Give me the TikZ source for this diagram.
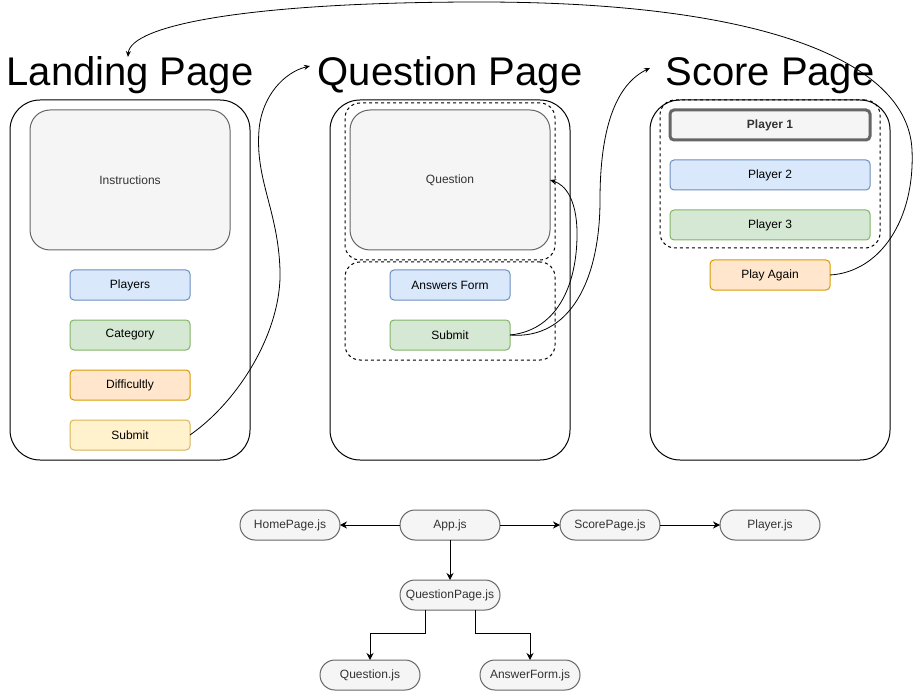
\documentclass[tikz,border=0pt]{standalone}
\usepackage{fontspec}
\setmainfont{Liberation Sans}
\usetikzlibrary{arrows.meta}

\definecolor{greyfill}{HTML}{F5F5F5}
\definecolor{greyline}{HTML}{666666}
\definecolor{greytext}{HTML}{333333}
\definecolor{bluefill}{HTML}{DAE8FC}
\definecolor{blueline}{HTML}{6C8EBF}
\definecolor{greenfill}{HTML}{D5E8D4}
\definecolor{greenline}{HTML}{82B366}
\definecolor{orangefill}{HTML}{FFE6CC}
\definecolor{orangeline}{HTML}{D79B00}
\definecolor{yellowfill}{HTML}{FFF2CC}
\definecolor{yellowline}{HTML}{D6B656}

\tikzset{
  base/.style={inner sep=0pt, outer sep=0pt, line width=1pt,
    font=\fontsize{12}{14}\selectfont, text=black},
  pagetitle/.style={inner sep=0pt, font=\fontsize{40}{44}\selectfont, anchor=base},
  pageframe/.style={base, draw=black, rounded corners=30pt,
    minimum width=240pt, minimum height=360pt},
  panel/.style={base, draw=greyline, fill=greyfill, text=greytext,
    rounded corners=20pt, minimum width=200pt, minimum height=140pt},
  btn/.style={base, rounded corners=4pt, minimum width=120pt, minimum height=30pt},
  wide/.style={minimum width=200pt},
  bluebtn/.style={btn, draw=blueline, fill=bluefill},
  greenbtn/.style={btn, draw=greenline, fill=greenfill},
  orangebtn/.style={btn, draw=orangeline, fill=orangefill},
  yellowbtn/.style={btn, draw=yellowline, fill=yellowfill},
  greybtn/.style={btn, draw=greyline, fill=greyfill},
  group/.style={base, draw=black, dash pattern=on 3pt off 3pt,
    rounded corners=15pt},
  pill/.style={base, draw=greyline, fill=greyfill, text=greytext,
    rounded corners=15pt, minimum width=100pt, minimum height=30pt},
  link/.style={line width=0.8pt, -{Stealth[length=6pt,width=5pt]}},
  dep/.style={line width=1pt, -{Stealth[length=7pt,width=7pt]}},
}

\begin{document}
\begin{tikzpicture}[x=1pt, y=-1pt]
\useasboundingbox (0,0) rectangle (917,692);

% page titles
\node[pagetitle] (tland) at (130,86) {Landing Page};
\node[pagetitle] (tques) at (450,86) {Question Page};
\node[pagetitle] (tscore) at (770,86) {Score Page};

% page frames
\node[pageframe] (pland) at (130,280) {};
\node[pageframe] (pques) at (450,280) {};
\node[pageframe] (pscore) at (770,280) {};

% landing page
\node[panel] (instr) at (130,180) {Instructions};
\node[bluebtn] (players) at (130,285) {Players};
\node[greenbtn] (category) at (130,335) {Category};
\node[orangebtn] (difficulty) at (130,385) {Difficultly};
\node[yellowbtn] (lsubmit) at (130,435) {Submit};

% question page
\node[group, minimum width=210pt, minimum height=157pt] (qgroup) at (450,181.5) {};
\node[group, minimum width=210pt, minimum height=98pt] (agroup) at (450,311) {};
\node[panel] (question) at (450,180) {Question};
\node[bluebtn] (answers) at (450,285) {Answers Form};
\node[greenbtn] (qsubmit) at (450,335) {Submit};

% score page
\node[group, minimum width=220pt, minimum height=148pt] (sgroup) at (770,174) {};
\node[greybtn, wide, draw=greyline, line width=3pt, text=greytext,
      font=\fontsize{12}{14}\selectfont\bfseries] (p1) at (770,125) {Player 1};
\node[bluebtn, wide] (p2) at (770,175) {Player 2};
\node[greenbtn, wide] (p3) at (770,225) {Player 3};
\node[orangebtn] (again) at (770,275) {Play Again};

% navigation between pages
\coordinate (toques) at (310,66);
\coordinate (toscore) at (650,68);
\coordinate (toland) at (128,57);
\draw[link] (lsubmit.east) .. controls (240,400) and (282,330) .. (280,270)
  .. controls (278,210) and (255,180) .. (259,130)
  .. controls (262,95) and (285,72) .. (toques);
\draw[link] (qsubmit.east) .. controls (560,330) and (578,280) .. (577,230)
  .. controls (576,200) and (566,185) .. (question.east);
\draw[link] (qsubmit.east) .. controls (570,340) and (600,280) .. (600,200)
  .. controls (600,130) and (615,85) .. (toscore);
\draw[link] (again.east) .. controls (880,272) and (915,220) .. (912,150)
  .. controls (908,60) and (760,2) .. (480,2)
  .. controls (250,2) and (130,25) .. (toland);

% component tree
\node[pill] (home) at (290,525) {HomePage.js};
\node[pill] (app) at (450,525) {App.js};
\node[pill] (scorejs) at (610,525) {ScorePage.js};
\node[pill] (player) at (770,525) {Player.js};
\node[pill] (qpage) at (450,595) {QuestionPage.js};
\node[pill] (qjs) at (370,675) {Question.js};
\node[pill] (ajs) at (530,675) {AnswerForm.js};

\draw[dep] (app) -- (home);
\draw[dep] (app) -- (scorejs);
\draw[dep] (scorejs) -- (player);
\draw[dep] (app) -- (qpage);
\draw[dep] ([xshift=-25pt]qpage.south) |- (370,633) -- (qjs.north);
\draw[dep] ([xshift=25pt]qpage.south) |- (530,633) -- (ajs.north);
\end{tikzpicture}
\end{document}
